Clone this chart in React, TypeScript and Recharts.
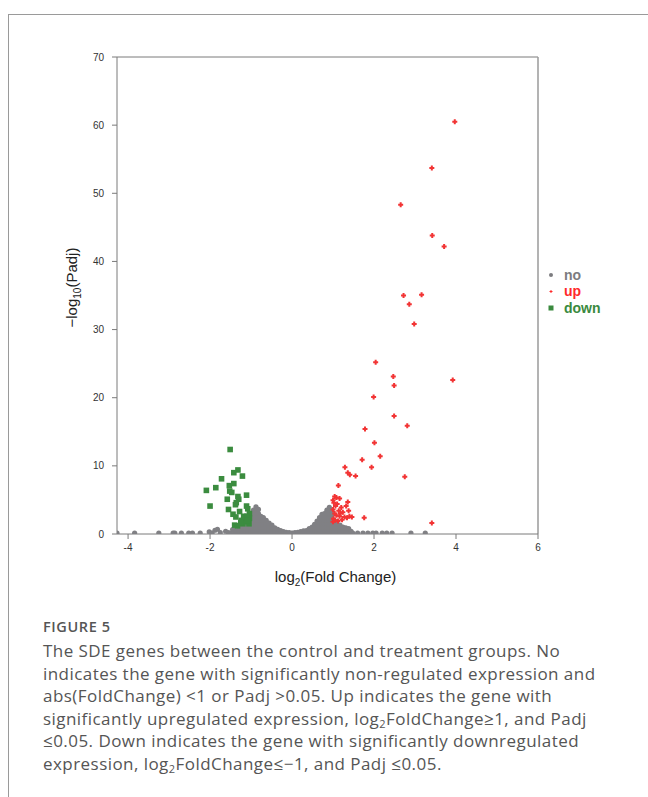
import React from 'react';
import { ScatterChart, Scatter, XAxis, YAxis, ReferenceLine, Label } from 'recharts';

const xTicks = [-4, -2, 0, 2, 4, 6];
const yTicks = [0, 10, 20, 30, 40, 50, 60, 70];
const legendItems = ['no', 'up', 'down'];

const upGenes: [number, number][] = [
  [3.97, 60.5], [3.41, 53.7], [2.65, 48.3], [3.42, 43.8], [3.71, 42.2], [2.72, 35.0], [3.16, 35.1],
  [2.86, 33.7], [2.98, 30.8], [2.04, 25.2], [2.47, 23.1], [2.49, 21.8], [3.92, 22.6], [1.99, 20.1],
  [2.49, 17.3], [2.81, 15.9], [1.78, 15.4], [2.01, 13.4], [2.15, 11.4], [1.71, 10.9], [1.29, 9.8],
  [1.94, 9.8], [1.36, 9.0], [1.41, 8.7], [1.55, 8.5], [2.75, 8.4], [1.13, 7.1], [1.76, 2.4], [3.41, 1.6],
  [1.04, 5.5], [1.08, 5.35], [1.16, 5.2], [1.0, 4.95], [1.36, 4.7], [1.02, 4.6], [1.10, 4.4], [1.06, 4.1],
  [1.20, 3.9], [1.32, 4.1], [1.0, 3.6], [1.14, 3.4], [1.24, 3.2], [1.38, 3.4], [1.08, 2.75], [1.16, 2.6],
  [1.28, 2.5], [1.40, 2.6], [1.46, 2.5], [1.01, 2.25], [1.0, 1.8], [1.12, 1.9], [1.22, 2.1], [1.34, 2.4],
  [1.04, 3.0], [1.18, 3.0], [1.05, 2.0],
];

const downGenes: [number, number][] = [
  [-1.51, 12.4], [-1.32, 9.4], [-1.42, 9.0], [-1.21, 8.5], [-1.72, 8.1], [-1.42, 7.4], [-1.53, 7.1],
  [-1.86, 6.8], [-2.09, 6.4], [-1.52, 6.3], [-1.47, 6.1], [-1.11, 5.7], [-1.32, 5.5], [-1.58, 5.1],
  [-1.30, 5.1], [-1.36, 4.6], [-1.38, 4.3], [-2.0, 4.1], [-1.11, 4.1], [-1.08, 3.7], [-1.55, 3.6],
  [-1.28, 3.3], [-1.04, 3.0], [-1.44, 2.9], [-1.37, 2.5], [-1.14, 2.1], [-1.24, 2.0], [-1.04, 2.3],
  [-1.12, 1.8], [-1.20, 1.5], [-1.40, 1.3], [-1.33, 1.2], [-1.05, 1.5], [-1.18, 2.6], [-1.10, 2.6],
  [-1.25, 1.7], [-1.08, 2.0],
];

const noGenes: [number, number][] = [
  [-4.27, 0.15], [-3.84, 0.15], [-3.25, 0.15], [-2.9, 0.15], [-2.86, 0.15], [-2.7, 0.15], [-2.52, 0.15],
  [-2.43, 0.15], [-2.24, 0.15], [-2.02, 0.3], [-1.95, 0.15], [-1.88, 0.55], [-1.82, 0.7], [-1.75, 0.2],
  [-1.62, 0.4], [-1.55, 0.2], [-1.45, 0.65], [-1.5, 0.1],
  [-1.40, 0.1], [-1.38, 0.5],
  [-1.30, 0.1], [-1.30, 0.5], [-1.30, 1.0],
  [-1.22, 0.1], [-1.22, 0.5], [-1.22, 1.0], [-1.22, 1.5],
  [-1.15, 0.1], [-1.15, 0.5], [-1.15, 1.0], [-1.15, 1.5], [-1.15, 2.0],
  [-1.08, 0.1], [-1.08, 0.5], [-1.08, 1.0], [-1.08, 1.5], [-1.08, 2.0], [-1.08, 2.5],
  [-1.00, 0.1], [-1.00, 0.5], [-1.00, 1.0], [-1.00, 1.5], [-1.00, 2.0], [-1.00, 2.5], [-1.00, 3.0],
  [-0.94, 0.1], [-0.94, 0.5], [-0.94, 1.0], [-0.94, 1.5], [-0.94, 2.0], [-0.94, 2.5], [-0.94, 3.0], [-0.94, 3.5],
  [-0.88, 0.1], [-0.88, 0.5], [-0.88, 1.0], [-0.88, 1.5], [-0.88, 2.0], [-0.88, 2.5], [-0.88, 3.0], [-0.88, 3.5], [-0.88, 4.0],
  [-0.82, 0.1], [-0.82, 0.5], [-0.82, 1.0], [-0.82, 1.5], [-0.82, 2.0], [-0.82, 2.5], [-0.82, 3.0], [-0.82, 3.6],
  [-0.76, 0.1], [-0.76, 0.5], [-0.76, 1.0], [-0.76, 1.5], [-0.76, 2.0], [-0.76, 2.6],
  [-0.70, 0.1], [-0.70, 0.5], [-0.70, 1.0], [-0.70, 1.5], [-0.70, 2.0], [-0.70, 2.4],
  [-0.63, 0.1], [-0.63, 0.5], [-0.63, 1.0], [-0.63, 1.5], [-0.63, 2.0],
  [-0.56, 0.1], [-0.56, 0.5], [-0.56, 1.0], [-0.56, 1.6],
  [-0.49, 0.1], [-0.49, 0.5], [-0.49, 1.0], [-0.49, 1.3],
  [-0.42, 0.1], [-0.42, 0.5], [-0.42, 0.9],
  [-0.35, 0.1], [-0.35, 0.4], [-0.35, 0.7],
  [-0.28, 0.1], [-0.28, 0.5],
  [-0.21, 0.1], [-0.21, 0.35],
  [-0.14, 0.1], [-0.14, 0.25],
  [-0.07, 0.1], [-0.07, 0.2],
  [0.0, 0.1], [0.0, 0.15],
  [0.07, 0.1], [0.07, 0.2],
  [0.14, 0.1], [0.14, 0.25],
  [0.21, 0.1], [0.21, 0.35],
  [0.28, 0.1], [0.28, 0.45],
  [0.35, 0.1], [0.35, 0.5],
  [0.42, 0.1], [0.42, 0.5], [0.42, 0.8],
  [0.49, 0.1], [0.49, 0.5], [0.49, 1.0],
  [0.55, 0.1], [0.55, 0.5], [0.55, 1.0], [0.55, 1.4],
  [0.61, 0.1], [0.61, 0.5], [0.61, 1.0], [0.61, 1.5], [0.61, 1.9],
  [0.67, 0.1], [0.67, 0.5], [0.67, 1.0], [0.67, 1.5], [0.67, 2.0], [0.67, 2.4],
  [0.73, 0.1], [0.73, 0.5], [0.73, 1.0], [0.73, 1.5], [0.73, 2.0], [0.73, 2.5], [0.73, 2.9],
  [0.79, 0.1], [0.79, 0.5], [0.79, 1.0], [0.79, 1.5], [0.79, 2.0], [0.79, 2.5], [0.79, 3.0],
  [0.85, 0.1], [0.85, 0.5], [0.85, 1.0], [0.85, 1.5], [0.85, 2.0], [0.85, 2.5], [0.85, 3.0], [0.85, 3.5],
  [0.91, 0.1], [0.91, 0.5], [0.91, 1.0], [0.91, 1.5], [0.91, 2.0], [0.91, 2.5], [0.91, 3.0], [0.91, 3.5], [0.91, 3.9],
  [0.97, 0.1], [0.97, 0.5], [0.97, 1.0], [0.97, 1.5], [0.97, 2.0], [0.97, 2.5], [0.97, 3.0], [0.97, 3.5],
  [1.03, 0.1], [1.03, 0.5], [1.03, 1.0], [1.03, 1.5], [1.03, 2.0],
  [1.10, 0.1], [1.10, 0.5], [1.10, 1.0], [1.10, 1.5],
  [1.17, 0.1], [1.17, 0.5], [1.17, 1.0], [1.17, 1.3],
  [1.24, 0.1], [1.24, 0.5], [1.24, 1.0],
  [1.31, 0.1], [1.31, 0.5], [1.31, 0.9],
  [1.38, 0.1], [1.38, 0.5], [1.38, 0.8],
  [1.44, 0.1], [1.44, 0.4],
  [1.48, 0.15], [1.6, 0.15], [1.73, 0.15], [1.85, 0.15], [1.97, 0.15], [2.05, 0.15], [2.2, 0.15],
  [2.31, 0.15], [2.44, 0.15], [2.9, 0.15], [3.25, 0.15],
];

const toPts = (arr: [number, number][]) => arr.map(([x, y]) => ({ x, y }));

const GRAY = '#808084';
const RED = '#f23434';
const GREEN = '#3b8c3f';
const AXIS = '#7a7a7a';

const GrayDot = (p: any) => <circle cx={p.cx} cy={p.cy} r={2.6} fill={GRAY} />;
const RedPlus = (p: any) => (
  <path
    d={`M${p.cx - 2.5},${p.cy - 1}h1.5v-1.5h2v1.5h1.5v2h-1.5v1.5h-2v-1.5h-1.5z`}
    fill={RED}
  />
);
const GreenSquare = (p: any) => (
  <rect x={p.cx - 2.8} y={p.cy - 2.8} width={5.6} height={5.6} fill={GREEN} />
);

const XLabelContent = (props: any) => {
  const vb = props.viewBox || {};
  const cx = vb.x + vb.width / 2 + 8;
  const y = vb.y + 48;
  return (
    <text x={cx} y={y} textAnchor="middle" fontSize={15} fill="#222" fontFamily="'Liberation Sans', Arial, sans-serif">
      log<tspan fontSize={10} dy={4}>2</tspan><tspan dy={-4}>(Fold Change)</tspan>
    </text>
  );
};

const YLabelContent = (props: any) => {
  const vb = props.viewBox || {};
  const x = vb.x + 20;
  const y = vb.y + vb.height / 2 - 8;
  return (
    <text
      x={x}
      y={y}
      transform={`rotate(-90, ${x}, ${y})`}
      textAnchor="middle"
      fontSize={15}
      fill="#222"
      fontFamily="'Liberation Sans', Arial, sans-serif"
    >
      −log<tspan fontSize={10} dy={4}>10</tspan><tspan dy={-4}>(Padj)</tspan>
    </text>
  );
};

const legendColors: Record<string, string> = { no: '#7c7c80', up: '#ff2a2a', down: '#3a8a3e' };

const LegendMarker = ({ name }: { name: string }) => {
  if (name === 'no') return <circle cx={5} cy={6} r={2} fill={legendColors.no} />;
  if (name === 'up') return <path d="M3.5,5h1v-1h1v1h1v1h-1v1h-1v-1h-1z" fill={legendColors.up} transform="translate(0,1)" />;
  return <rect x={2.5} y={3.5} width={5} height={5} fill={legendColors.down} />;
};

export default function App() {
  const tickStyle = { fontSize: 10, fill: '#333', fontFamily: "'Liberation Sans', Arial, sans-serif" };
  const subStyle = { fontSize: 11, verticalAlign: '-3px', lineHeight: 0 } as React.CSSProperties;
  return (
    <div style={{ position: 'absolute', left: 0, top: 0, width: 648, height: 797, overflow: 'hidden', background: '#fff' }}>
      <div
        style={{
          position: 'absolute',
          left: 8,
          top: 14,
          width: 700,
          height: 800,
          borderTop: '1px solid #9a9a9a',
          borderLeft: '1px solid #9a9a9a',
        }}
      />
      <div style={{ position: 'absolute', left: 0, top: 0 }}>
        <ScatterChart width={648} height={600} margin={{ top: 57, right: 110, bottom: 16, left: 57 }}>
          <XAxis
            type="number"
            dataKey="x"
            domain={[-4.27, 6]}
            ticks={xTicks}
            allowDataOverflow
            height={50}
            tick={tickStyle}
            tickSize={5}
            tickMargin={5}
            stroke={AXIS}
            axisLine={{ stroke: AXIS }}
            tickLine={{ stroke: AXIS }}
          >
            <Label content={XLabelContent} />
          </XAxis>
          <YAxis
            type="number"
            dataKey="y"
            domain={[0, 70]}
            ticks={yTicks}
            allowDataOverflow
            width={60}
            tick={tickStyle}
            tickSize={5}
            tickMargin={8}
            stroke={AXIS}
            axisLine={{ stroke: AXIS }}
            tickLine={{ stroke: AXIS }}
          >
            <Label content={YLabelContent} />
          </YAxis>
          <ReferenceLine y={70} stroke={AXIS} strokeWidth={1} />
          <ReferenceLine x={6} stroke="#9a9a9a" strokeWidth={1.5} />
          <Scatter name="no" data={toPts(noGenes)} shape={GrayDot} isAnimationActive={false} />
          <Scatter name="down" data={toPts(downGenes)} shape={GreenSquare} isAnimationActive={false} />
          <Scatter name="up" data={toPts(upGenes)} shape={RedPlus} isAnimationActive={false} />
        </ScatterChart>
      </div>
      <div style={{ position: 'absolute', left: 546, top: 267, fontFamily: "'Liberation Sans', Arial, sans-serif", fontWeight: 'bold', fontSize: 14 }}>
        {legendItems.map((name) => (
          <div key={name} style={{ display: 'flex', alignItems: 'center', height: 16.3, lineHeight: '16.3px' }}>
            <svg width={10} height={12} style={{ marginRight: 8 }}>
              <LegendMarker name={name} />
            </svg>
            <span style={{ color: legendColors[name] }}>{name}</span>
          </div>
        ))}
      </div>
      <div
        style={{
          position: 'absolute',
          left: 43,
          top: 619,
          color: '#555',
          fontFamily: "'Open Sans', 'Noto Sans', sans-serif",
          whiteSpace: 'nowrap',
        }}
      >
        <div style={{ fontSize: 14.5, lineHeight: '16px', fontWeight: 600, letterSpacing: 0.6 }}>FIGURE 5</div>
        <div style={{ fontSize: 17, lineHeight: '22.6px', marginTop: 5, letterSpacing: 0.45 }}>
          The SDE genes between the control and treatment groups. No<br />
          indicates the gene with significantly non-regulated expression and<br />
          abs(FoldChange) &lt;1 or Padj &gt;0.05. Up indicates the gene with<br />
          significantly upregulated expression, log<sub style={subStyle}>2</sub>FoldChange≥1, and Padj<br />
          ≤0.05. Down indicates the gene with significantly downregulated<br />
          expression, log<sub style={subStyle}>2</sub>FoldChange≤−1, and Padj ≤0.05.
        </div>
      </div>
    </div>
  );
}
